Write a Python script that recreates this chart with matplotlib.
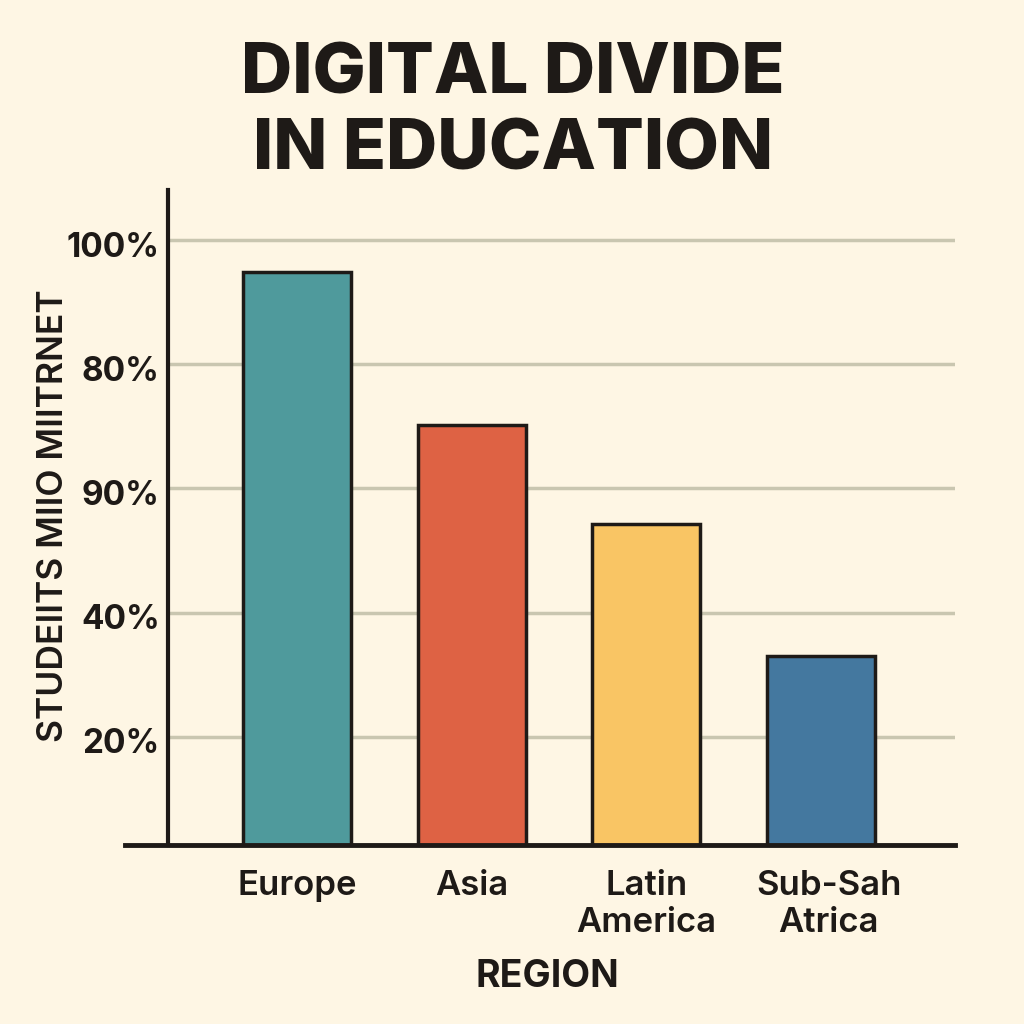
import matplotlib
matplotlib.use("Agg")
import matplotlib.pyplot as plt
from matplotlib.transforms import ScaledTranslation

categories = ["Europe", "Asia", "Latin\nAmerica", "Sub-Sah\nAtrica"]
values = [94.85, 70.2, 54.2, 33.0]
colors = ["#4F9A9C", "#DE6244", "#F9C564", "#44789F"]
tick_vals = [20, 40, 60, 80, 100]
tick_labels = ["20%", "40%", "90%", "80%", "100%"]
x_pos = [0, 1, 2, 3]
label_pos = [0, 1, 2, 3.045]

BG = "#FEF6E4"
INK = "#1E1A17"
GRID = "#C9C6B0"
plt.rcParams['font.family'] = ['Inter', 'DejaVu Sans']

fig = plt.figure(figsize=(10.24, 10.24), dpi=100, facecolor=BG)
ax = fig.add_axes([168/1024, 1-845/1024, 787/1024, 655/1024], facecolor=BG)
ax.set_ylim(2.6, 108.05)
ax.set_xlim(-0.7386, 3.767)

for s in ["top", "right", "bottom"]:
    ax.spines[s].set_visible(False)
ax.spines["left"].set_color(INK)
ax.spines["left"].set_linewidth(3)
ax.spines["left"].set_zorder(5)

ax.set_axisbelow(True)
ax.grid(axis="y", color=GRID, linewidth=2.5)
ax.grid(axis="x", visible=False)

ax.bar(x_pos, values, width=0.618, color=colors, edgecolor=INK, linewidth=2.5, zorder=3)
# baseline reaches left of the y axis
ax.axhline(2.6, xmin=-43/787, xmax=1, color=INK, linewidth=3.5, clip_on=False, zorder=6)

ax.set_yticks(tick_vals)
ax.set_yticklabels(tick_labels, fontsize=24, fontweight="bold", color=INK)
ax.tick_params(axis="y", length=0, pad=6)
shift = ScaledTranslation(0, -4/100, fig.dpi_scale_trans)
for lab in ax.get_yticklabels():
    lab.set_transform(lab.get_transform() + shift)
ax.set_xticks(label_pos)
ax.set_xticklabels(categories, fontsize=25, fontweight="semibold", color=INK, linespacing=1.2)
ax.tick_params(axis="x", length=0, pad=18)

fig.text(513/1024, 1-113/1024, "DIGITAL DIVIDE\nIN EDUCATION", ha="center", va="center",
         fontsize=51, fontweight=800, color=INK, linespacing=1.22)
fig.text(547/1024, 1-977/1024, "REGION", ha="center", va="center", fontsize=27,
         fontweight="bold", color=INK)
fig.text(54/1024, 1-516/1024, "STUDEIITS MIIO MIITRNET", rotation=90, ha="center", va="center",
         fontsize=25.5, fontweight="semibold", color=INK)

fig.savefig("out.png", dpi=100, facecolor=BG)
